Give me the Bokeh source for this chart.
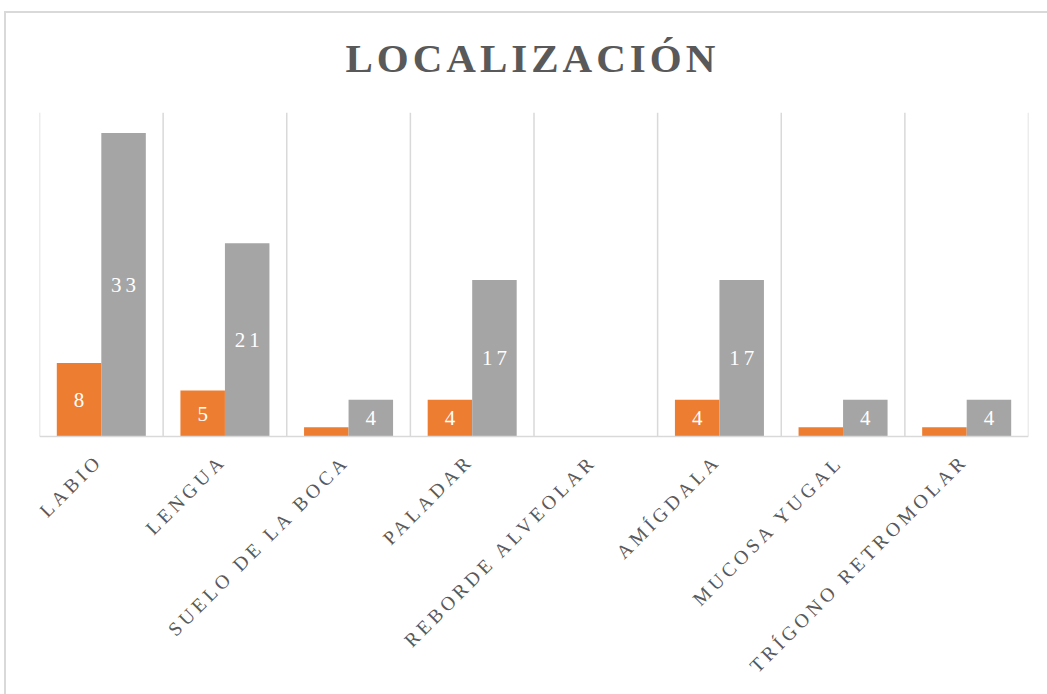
from math import pi, sqrt
from bokeh.plotting import figure
from bokeh.models import (FactorRange, Range1d, Span, ColumnDataSource,
                          InlineStyleSheet, LabelSet)
from bokeh.transform import dodge
from bokeh.core.properties import value
from bokeh.embed import file_html
from bokeh.resources import INLINE

title_text = "LOCALIZACIÓN"
categories = ["LABIO", "LENGUA", "SUELO DE LA BOCA", "PALADAR",
              "REBORDE ALVEOLAR", "AMÍGDALA", "MUCOSA YUGAL", "TRÍGONO RETROMOLAR"]
series_orange = [8, 5, 1, 4, 0, 4, 1, 1]
series_gray = [33, 21, 4, 17, 0, 17, 4, 4]
labels_orange = ["8", "5", "", "4", "", "4", "", ""]
labels_gray = ["33", "21", "4", "17", "", "17", "4", "4"]

ORANGE = "#ED7D31"
GRAY = "#A5A5A5"
GRID = "#D9D9D9"
TEXT = "#595959"
FONT = "Liberation Serif"
SPACING = 4          # letter spacing in px (applied through CSS)
R2 = sqrt(2)

W, H = 1047, 694
TOP, LEFT, RIGHT = 112, 39, 19
PX_PER_UNIT = 9.2    # vertical scale of the bars
BASE_Y = 436         # pixel row of the value axis zero line
Y_MAX = (BASE_Y - TOP) / PX_PER_UNIT
Y_MIN = -(H - BASE_Y) / PX_PER_UNIT   # frame extends below the baseline for labels

n = len(categories)
src = ColumnDataSource(dict(
    cat=categories,
    a=series_orange,
    b=series_gray,
    a_mid=[v / 2 for v in series_orange],
    b_mid=[v / 2 for v in series_gray],
    la=labels_orange,
    lb=labels_gray,
    la_dx=[-(max(len(s), 1) - 1) * SPACING / 2 for s in labels_orange],
    lb_dx=[-(max(len(s), 1) - 1) * SPACING / 2 for s in labels_gray],
    zero=[0] * n,
    tick_dx=[-5 - (len(c) - 1) * SPACING / R2 for c in categories],
    tick_dy=[-24 - (len(c) - 1) * SPACING / R2 for c in categories],
))

grid_src = ColumnDataSource(dict(
    x=list(range(n + 1)), y0=[0] * (n + 1), y1=[Y_MAX] * (n + 1)))

p = figure(
    x_range=FactorRange(factors=categories),
    y_range=Range1d(Y_MIN, Y_MAX),
    width=W, height=H,
    output_backend="svg", toolbar_location=None,
    min_border_left=LEFT, min_border_right=RIGHT,
    min_border_top=TOP, min_border_bottom=0,
    title=title_text,
)
p.outline_line_color = None
p.background_fill_color = None
p.border_fill_color = None

p.title.align = "left"
p.title.offset = 306
p.title.text_font = FONT
p.title.text_font_style = "bold"
p.title.text_font_size = "41px"
p.title.text_color = TEXT
p.title.standoff = 63

p.xgrid.visible = False
p.ygrid.visible = False
p.yaxis.visible = False
p.xaxis.visible = False

p.segment(x0="x", x1="x", y0="y0", y1="y1", source=grid_src,
          line_color=GRID, line_width=1.5)
p.add_layout(Span(location=0, dimension="width", line_color=GRID, line_width=1.5))

p.vbar(x=dodge("cat", -0.18, range=p.x_range), top="a", width=0.36, source=src,
       fill_color=ORANGE, line_color=None)
p.vbar(x=dodge("cat", 0.18, range=p.x_range), top="b", width=0.36, source=src,
       fill_color=GRAY, line_color=None)

p.add_layout(LabelSet(x=dodge("cat", -0.18, range=p.x_range), y="a_mid", text="la",
                      x_offset="la_dx", source=src,
                      text_color="white", text_font=value(FONT), text_font_size="21px",
                      text_align="center", text_baseline="middle"))
p.add_layout(LabelSet(x=dodge("cat", 0.18, range=p.x_range), y="b_mid", text="lb",
                      x_offset="lb_dx", source=src,
                      text_color="white", text_font=value(FONT), text_font_size="21px",
                      text_align="center", text_baseline="middle"))

# category labels below the baseline, rotated 45 degrees
p.add_layout(LabelSet(x="cat", y="zero", text="cat", source=src,
                      x_offset="tick_dx", y_offset="tick_dy", angle=pi / 4,
                      text_color=TEXT, text_font=value(FONT), text_font_size="19.5px",
                      text_align="right", text_baseline="middle"))

p.stylesheets = [InlineStyleSheet(css=(
    ":host { letter-spacing: %dpx; "
    "background: linear-gradient(#D9D9D9, #D9D9D9) 4px 11px / 2px 100%% no-repeat, "
    "linear-gradient(#D9D9D9, #D9D9D9) 4px 11px / 100%% 2px no-repeat, white; }" % SPACING
))]

open("out.html", "w").write(file_html(p, INLINE))
